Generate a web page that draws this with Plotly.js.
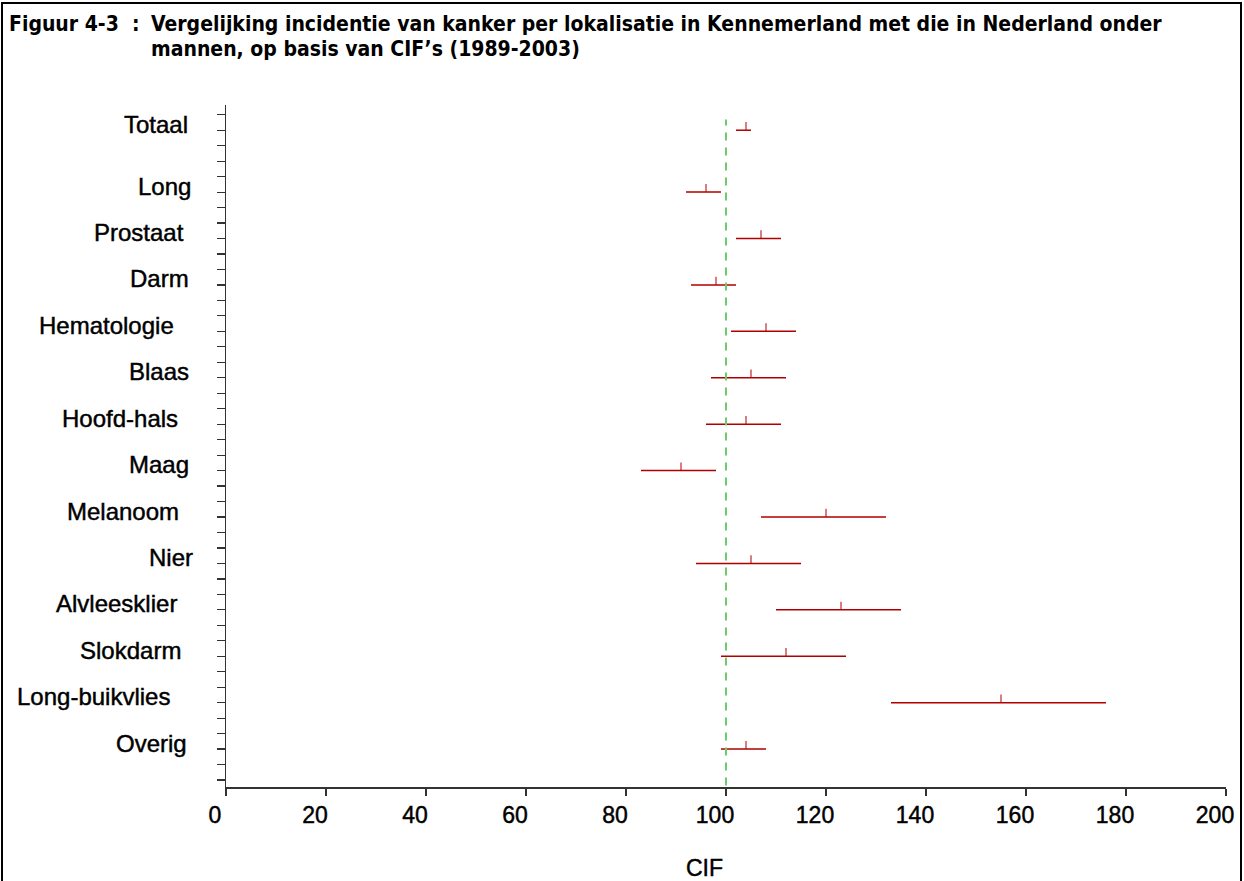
<!DOCTYPE html>
<html>
<head>
<meta charset="utf-8">
<script src="https://cdn.plot.ly/plotly-3.0.1.min.js"></script>
<style>
  html, body { margin: 0; padding: 0; background: #ffffff; }
  #chart { width: 1244px; height: 881px; }
  /* slightly heavier strokes for the sans-serif labels */
  #chart .annotation-text.heavy, #chart .xtick text { stroke: #000; stroke-width: 0.45px; }
</style>
</head>
<body>
<div id="chart"></div>
<script>
// Cancer sites (top to bottom) with CIF point estimate and 95% interval
const sites = ['Totaal', 'Long', 'Prostaat', 'Darm', 'Hematologie', 'Blaas', 'Hoofd-hals',
               'Maag', 'Melanoom', 'Nier', 'Alvleesklier', 'Slokdarm', 'Long-buikvlies', 'Overig'];
const cif     = [104, 96, 107, 98, 108, 105, 104, 91, 120, 105, 123, 112, 155, 104];
const cifLow  = [102, 92, 102, 93, 101, 97, 96, 83, 107, 94, 110, 99, 133, 99];
const cifHigh = [105, 99, 111, 102, 114, 112, 111, 98, 132, 115, 135, 124, 176, 108];
const xTicks  = [0, 20, 40, 60, 80, 100, 120, 140, 160, 180, 200];
const refCIF  = 100;

// Row positions: 3 minor ticks between sites, an extra one below "Totaal"
const n = sites.length;
const rowPos = sites.map((s, i) => (i === 0 ? 2 + 3 * (n - 2) + 4 : 2 + 3 * (n - 1 - i)));

// Plot area in pixels
const M = { l: 226, r: 18, t: 105, b: 94 };
const W = 1244, H = 881;
const plotW = W - M.l - M.r, plotH = H - M.t - M.b;
const px2paperX = px => (px - M.l) / plotW;
const px2paperY = py => (H - M.b - py) / plotH;

// Right edge (px) of each site label
const labelRight = [190, 193, 186, 191, 176, 191, 180, 191, 181, 195, 179, 183, 172, 189];

const sansFont = 'Liberation Sans, Arial, sans-serif';
const titleFont = { family: 'DejaVu Sans Condensed, DejaVu Sans, sans-serif', size: 21, color: '#000' };

const trace = {
  type: 'scatter',
  mode: 'markers',
  x: cif,
  y: rowPos,
  marker: { size: 1, color: 'rgba(0,0,0,0)' },
  error_x: {
    type: 'data', symmetric: false,
    array: cif.map((v, i) => cifHigh[i] - v),
    arrayminus: cif.map((v, i) => v - cifLow[i]),
    color: '#b00000', thickness: 1.5, width: 0
  },
  error_y: {
    type: 'data', symmetric: false,
    array: cif.map(() => 0.53),
    arrayminus: cif.map(() => 0),
    color: '#c02828', thickness: 1.2, width: 0
  },
  hoverinfo: 'skip',
  showlegend: false
};

const annotations = sites.map((s, i) => ({
  xref: 'paper', yref: 'y',
  x: px2paperX(labelRight[i]), y: rowPos[i],
  xanchor: 'right', yanchor: 'middle', yshift: 6,
  text: s, showarrow: false,
  font: { family: sansFont, size: 24, color: '#000' }
}));

// Figure caption
annotations.push({
  xref: 'paper', yref: 'paper',
  x: px2paperX(7), y: px2paperY(24),
  xanchor: 'left', yanchor: 'middle',
  text: '<b>Figuur 4-3\u00a0 :</b>', showarrow: false, font: titleFont
});
annotations.push({
  xref: 'paper', yref: 'paper',
  x: px2paperX(149), y: px2paperY(24),
  xanchor: 'left', yanchor: 'middle',
  text: '<b>Vergelijking incidentie van kanker per lokalisatie in Kennemerland met die in Nederland onder</b>',
  showarrow: false, font: titleFont
});
annotations.push({
  xref: 'paper', yref: 'paper',
  x: px2paperX(149), y: px2paperY(49),
  xanchor: 'left', yanchor: 'middle',
  text: '<b>mannen, op basis van CIF\u2019s (1989-2003)</b>',
  showarrow: false, font: titleFont
});

// x-axis title
annotations.push({
  xref: 'paper', yref: 'paper',
  x: px2paperX(704), y: px2paperY(868),
  xanchor: 'center', yanchor: 'middle',
  text: 'CIF', showarrow: false,
  font: { family: sansFont, size: 23, color: '#000' }
});

const layout = {
  width: W, height: H,
  margin: M,
  paper_bgcolor: '#ffffff',
  plot_bgcolor: '#ffffff',
  xaxis: {
    range: [0, 200],
    tickvals: xTicks,
    ticktext: xTicks.map(String),
    ticks: 'outside', ticklen: 7, tickwidth: 1.2, tickcolor: '#333',
    ticklabelshift: -11,
    showline: true, linecolor: '#333', linewidth: 1.5,
    showgrid: false, zeroline: false,
    tickfont: { family: sansFont, size: 23, color: '#000' }
  },
  yaxis: {
    range: [-0.45, 43.63],
    tickvals: Array.from({ length: 44 }, (_, k) => k),
    showticklabels: false,
    ticks: 'outside', ticklen: 8, tickwidth: 1.2, tickcolor: '#333',
    showline: true, linecolor: '#333', linewidth: 1.5,
    showgrid: false, zeroline: false
  },
  shapes: [
    {
      type: 'line', xref: 'x', yref: 'y',
      x0: refCIF, x1: refCIF, y0: -0.35, y1: 42.7,
      line: { color: '#6ccc6c', width: 2, dash: '8px,7px' }
    },
    {
      type: 'rect', xref: 'paper', yref: 'paper',
      x0: px2paperX(2), x1: px2paperX(1241), y0: px2paperY(895), y1: px2paperY(3),
      line: { color: '#000', width: 2 }, fillcolor: 'rgba(0,0,0,0)'
    }
  ],
  annotations: annotations
};

Plotly.newPlot('chart', [trace], layout, { displayModeBar: false, staticPlot: true }).then(gd => {
  // heavier strokes for the site labels and axis title (not the bold caption)
  gd.querySelectorAll('.annotation-text').forEach(t => {
    const txt = t.textContent;
    if (sites.includes(txt) || txt === 'CIF') t.classList.add('heavy');
  });
});
</script>
</body>
</html>
